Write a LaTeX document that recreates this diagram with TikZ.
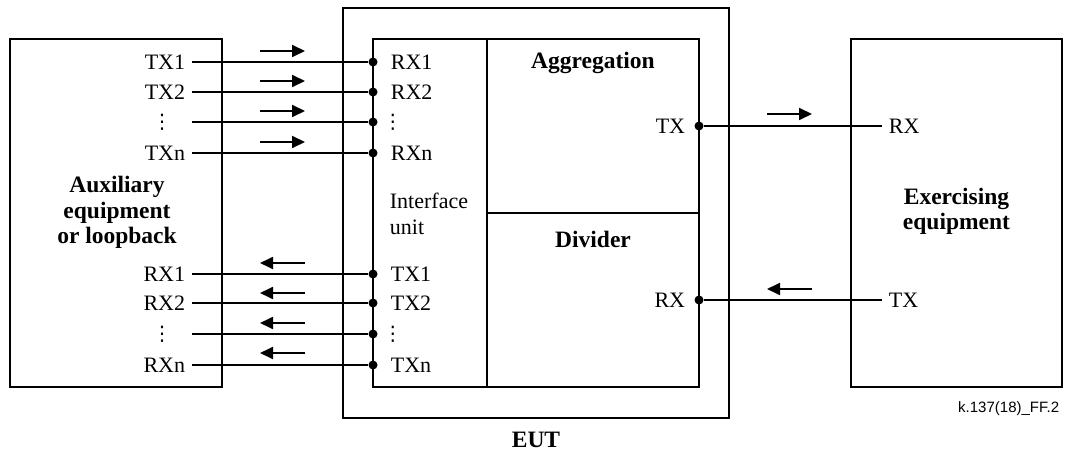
\documentclass[tikz,border=0pt]{standalone}
\usepackage{fontspec}
\setmainfont{Liberation Serif}
\newfontfamily\labelsans{Liberation Sans}
\newfontfamily\symfont{DejaVu Sans}
\usetikzlibrary{arrows.meta}
\newcommand{\vdl}{\makebox[46pt][c]{\symfont\fontsize{20}{20}\selectfont ⋮}}
\newcommand{\vdr}{\makebox[4pt][c]{\symfont\fontsize{20}{20}\selectfont ⋮}}
\begin{document}
\begin{tikzpicture}[x=1pt,y=-1pt, line width=1.8pt,
 box/.style={draw, rectangle, inner sep=0pt},
 lbl/.style={font=\fontsize{22}{26}\selectfont, inner xsep=6pt, inner ysep=1pt},
 boldtxt/.style={font=\bfseries\fontsize{23.5}{25.5}\selectfont, align=center, inner sep=0pt},
 pin/.style={circle, fill, inner sep=0pt, minimum size=9pt},
 flow/.style={-{Triangle[length=13pt,width=12pt]}, line width=1.8pt}
]
\useasboundingbox (0,0) rectangle (1067,454);
% boxes
\node[box, minimum width=212pt, minimum height=348pt] (aux) at (116,213) {};
\node[box, minimum width=386pt, minimum height=410pt] (eut) at (536,213) {};
\node[box, minimum width=114pt, minimum height=348pt] (iu) at (430,213) {};
\node[box, minimum width=212pt, minimum height=174pt] (agg) at (593,126) {};
\node[box, minimum width=212pt, minimum height=174pt] (div) at (593,300) {};
\node[box, minimum width=211pt, minimum height=348pt] (exer) at (956.5,213) {};
% left port rows
\foreach \y/\a/\b/\n in {62/TX1/RX1/u1, 92/TX2/RX2/u2, 122/{\vdl}/{\vdr}/u3, 153/TXn/RXn/u4,
                         274/RX1/TX1/d1, 303/RX2/TX2/d2, 334/{\vdl}/{\vdr}/d3, 365/RXn/TXn/d4} {
  \node[lbl, anchor=east] (l\n) at (192,\y) {\a};
  \node[pin] (p\n) at (373,\y) {};
  \node[lbl, anchor=west] (r\n) at (384,\y) {\b};
  \draw (l\n.east) -- (p\n);
}
% direction arrows
\foreach \y in {51,81,111,142} \draw[flow] (260,\y) -- (305,\y);
\foreach \y in {263,293,323,353} \draw[flow] (305,\y) -- (260,\y);
\draw[flow] (767,114) -- (812,114);
\draw[flow] (812,289) -- (767,289);
% right connectors
\node[pin] (atx) at (699,126) {};
\node[lbl, anchor=east] (atxl) at (692,126) {TX};
\node[lbl, anchor=west] (erx) at (882,126) {RX};
\draw (atx) -- (erx.west);
\node[pin] (drx) at (699,300) {};
\node[lbl, anchor=east] (drxl) at (692,300) {RX};
\node[lbl, anchor=west] (etx) at (882,300) {TX};
\draw (drx) -- (etx.west);
% texts
\node[boldtxt] (auxt) at (117,212.5) {Auxiliary\\equipment\\or loopback};
\node[lbl, anchor=west, align=left] (iut) at (383,214) {Interface\\unit};
\node[boldtxt] (aggt) at (593,63) {Aggregation};
\node[boldtxt] (divt) at (593,239) {Divider};
\node[boldtxt] (exert) at (956.5,211.5) {Exercising\\equipment};
\node[boldtxt] (eutt) at (536,440) {EUT};
\node[font=\labelsans\fontsize{15}{18}\selectfont, anchor=east, inner sep=0pt] (ref) at (1060,409) {k.137(18)\_FF.2};
\end{tikzpicture}
\end{document}
